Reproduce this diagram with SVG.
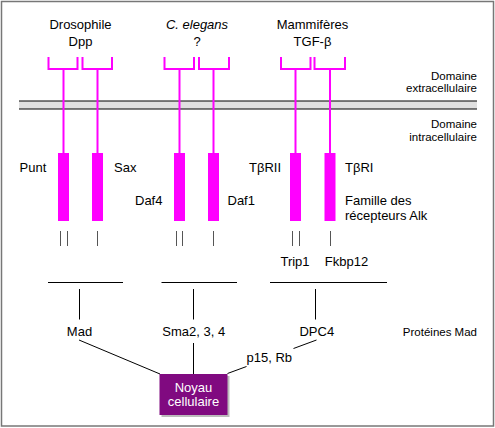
<svg xmlns="http://www.w3.org/2000/svg" width="495" height="428" viewBox="0 0 495 428">
<style>
text{font-family:"Liberation Sans",Arial,sans-serif;font-size:13px;fill:#000}
.s{font-size:11.5px}
.m{text-anchor:middle}
.e{text-anchor:end}
.br{fill:none;stroke:#f0f;stroke-width:2}
.st{stroke:#f0f;stroke-width:2}
.bx{fill:#f0f}
.tk{stroke:#555;stroke-width:1}
.ln{stroke:#000;stroke-width:1;fill:none}
</style>
<rect x="1.5" y="1.5" width="492" height="424.5" fill="#fff" stroke="#777" stroke-width="1.5"/>
<g id="membrane">
<rect x="19" y="101" width="458" height="8" fill="#e0e0e0"/>
<line x1="19" y1="101" x2="477" y2="101" class="ln" stroke="#222"/>
<line x1="19" y1="109" x2="477" y2="109" class="ln" stroke="#222"/>
</g>
<g id="labels-domains">
<text class="s e" x="477" y="79.5">Domaine</text>
<text class="s e" x="477" y="92">extracellulaire</text>
<text class="s e" x="477" y="128">Domaine</text>
<text class="s e" x="477" y="140.5">intracellulaire</text>
<text class="s e" x="477" y="336">Protéines Mad</text>
</g>
<g id="drosophile">
<text class="m" x="80.5" y="29">Drosophile</text>
<text class="m" x="80.5" y="45.5">Dpp</text>
<path class="br" d="M48.5 57V69H77.5V57"/>
<path class="br" d="M82.5 57V69H112V57"/>
<line class="st" x1="63.5" y1="69" x2="63.5" y2="153"/>
<line class="st" x1="97.5" y1="69" x2="97.5" y2="153"/>
<rect class="bx" x="58" y="153" width="11" height="68"/>
<rect class="bx" x="92" y="153" width="11" height="68"/>
<text x="19.5" y="171.5">Punt</text>
<text x="114" y="171.5">Sax</text>
<line class="tk" x1="60.5" y1="231" x2="60.5" y2="246"/>
<line class="tk" x1="67.5" y1="231" x2="67.5" y2="246"/>
<line class="tk" x1="97.5" y1="231" x2="97.5" y2="246"/>
</g>
<g id="celegans">
<text class="m" x="197" y="29" font-style="italic">C. elegans</text>
<text class="m" x="197" y="45.5">?</text>
<path class="br" d="M164.5 57V69H194V57"/>
<path class="br" d="M199 57V69H229V57"/>
<line class="st" x1="179.5" y1="69" x2="179.5" y2="153"/>
<line class="st" x1="213.5" y1="69" x2="213.5" y2="153"/>
<rect class="bx" x="174" y="153" width="11" height="68"/>
<rect class="bx" x="208" y="153" width="11" height="68"/>
<text x="135" y="204.5">Daf4</text>
<text x="227.5" y="204.5">Daf1</text>
<line class="tk" x1="176.5" y1="231" x2="176.5" y2="246"/>
<line class="tk" x1="182.5" y1="231" x2="182.5" y2="246"/>
<line class="tk" x1="213.5" y1="231" x2="213.5" y2="246"/>
</g>
<g id="mammiferes">
<text class="m" x="312.5" y="29">Mammifères</text>
<text class="m" x="312.5" y="45.5">TGF-β</text>
<path class="br" d="M281 57V69H310.5V57"/>
<path class="br" d="M314.5 57V69H345V57"/>
<line class="st" x1="295.5" y1="69" x2="295.5" y2="153"/>
<line class="st" x1="330" y1="69" x2="330" y2="153"/>
<rect class="bx" x="290" y="153" width="11" height="68"/>
<rect class="bx" x="324.5" y="153" width="11" height="68"/>
<text x="249" y="171.5">TβRII</text>
<text x="345" y="171.5">TβRI</text>
<text x="345" y="204.5">Famille des</text>
<text x="345" y="220">récepteurs Alk</text>
<line class="tk" x1="292.5" y1="231" x2="292.5" y2="246"/>
<line class="tk" x1="299.5" y1="231" x2="299.5" y2="246"/>
<line class="tk" x1="330.5" y1="231" x2="330.5" y2="246"/>
<text class="m" x="295" y="265.5">Trip1</text>
<text class="m" x="346.5" y="265.5">Fkbp12</text>
</g>
<g id="connectors">
<line class="ln" x1="48" y1="282.5" x2="123" y2="282.5"/>
<line class="ln" x1="161.5" y1="282.5" x2="237" y2="282.5"/>
<line class="ln" x1="270" y1="282.5" x2="387" y2="282.5"/>
<line class="ln" x1="79.5" y1="289" x2="79.5" y2="319.5"/>
<line class="ln" x1="193.5" y1="289" x2="193.5" y2="319.5"/>
<line class="ln" x1="315.5" y1="289" x2="315.5" y2="319.5"/>
<line class="ln" x1="79" y1="340" x2="160" y2="374"/>
<line class="ln" x1="193.5" y1="343" x2="193.5" y2="374"/>
<line class="ln" x1="227.5" y1="373.5" x2="246.5" y2="366.5"/>
<line class="ln" x1="293.5" y1="348.5" x2="316.5" y2="340"/>
</g>
<g id="mad">
<text class="m" x="79.5" y="336">Mad</text>
<text class="m" x="193.8" y="336">Sma2, 3, 4</text>
<text class="m" x="316.8" y="336">DPC4</text>
<text x="246.5" y="361.5">p15, Rb</text>
</g>
<g id="noyau">
<rect x="161.5" y="376" width="68" height="41" fill="#bbb"/>
<rect x="159.5" y="374" width="68" height="41" fill="#800a80"/>
<text class="m" x="193.5" y="391.5" style="fill:#fff">Noyau</text>
<text class="m" x="193.5" y="406" style="fill:#fff">cellulaire</text>
</g>
</svg>
